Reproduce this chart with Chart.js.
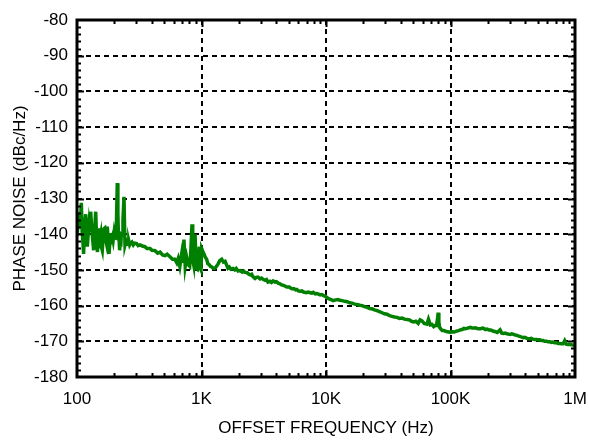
<!DOCTYPE html>
<html>
<head>
<meta charset="utf-8">
<script src="https://cdn.jsdelivr.net/npm/chart.js@4"></script>
<style>
  html, body { margin: 0; padding: 0; background: #fff; }
  canvas { display: block; }
</style>
</head>
<body>
<canvas id="noise" width="589" height="442"></canvas>
<script>
// offset frequency (Hz) and phase noise (dBc/Hz)
const freqs = [
  100, 101.9, 104, 106, 108.3, 110, 111.7, 113, 115, 117.5, 119, 121, 123, 125, 127, 128.8,
  131, 133.7, 136, 138.5, 141.3, 143.9, 146, 148, 150.2, 153, 155, 157, 159.6, 162, 164.5, 166.9,
  169, 171.9, 175.2, 178, 180.7, 183, 186.5, 189, 192.1, 195, 198.3, 201, 204.6, 207, 210.7, 213,
  215, 217.5, 220, 222, 224.4, 227, 231.1, 234, 238.5, 241, 243, 246.2, 249, 253.5, 257, 261,
  265, 270, 276, 283.3, 290, 301.6, 310, 320, 335, 351, 365, 386, 400, 423, 445, 465,
  487, 509, 530, 558, 585, 611, 633, 650, 670, 690, 700, 723, 740, 760, 780, 804,
  820, 839, 850, 865, 888, 905, 925, 945, 960, 975, 990, 1003, 1025, 1046, 1075, 1100,
  1125, 1150, 1180, 1210, 1245, 1285, 1320, 1360, 1400, 1453, 1500, 1547, 1590, 1630, 1672, 1720,
  1790, 1850, 1900, 1970, 2038, 2120, 2180, 2240, 2325, 2400, 2460, 2530, 2590, 2690, 2760, 2840,
  2950, 3030, 3120, 3240, 3330, 3420, 3550, 3650, 3760, 3900, 4000, 4130, 4270, 4400, 4520, 4680,
  4840, 5060, 5200, 5320, 5550, 5700, 5840, 6000, 6200, 6400, 6600, 6940, 7200, 7470, 7700, 7900,
  8200, 8430, 8700, 8970, 9250, 9550, 9800, 10030, 10400, 10950, 11400, 12000, 12500, 12900, 13500, 14150,
  14800, 15500, 16200, 17000, 17800, 18650, 19500, 20400, 21400, 22400, 23400, 24550, 25700, 26900, 28200, 29500,
  30900, 32400, 33900, 35500, 37200, 38900, 40800, 42700, 44700, 46800, 48700, 50600, 52700, 55000, 57000, 59000,
  61500, 64600, 66500, 68800, 71000, 73300, 75500, 77200, 78800, 79600, 80600, 81600, 83700, 85900, 88500, 91400,
  94400, 97400, 100000, 102000, 107000, 112500, 116000, 120000, 124000, 127900, 132000, 137000, 141000, 145000, 149000, 153000,
  158000, 164000, 169000, 174000, 180000, 185000, 191000, 197000, 203000, 210000, 216000, 222000, 230000, 237000, 243000, 250000,
  258000, 267000, 275000, 284000, 292000, 301000, 310000, 318000, 328000, 338000, 349000, 360000, 371000, 383000, 395000, 407000,
  420000, 433000, 445000, 458000, 474000, 490000, 505000, 521000, 537000, 554000, 571000, 589000, 607000, 626000, 644000, 663000,
  686000, 709000, 731000, 754000, 778000, 802000, 827000, 853000, 880000, 907000, 953000, 1000000
];

const noise = [
  -136, -137.4, -134, -138, -131.2, -139, -142.5, -145.5, -138, -134.4, -139, -143.5, -140, -137, -139, -133.7,
  -138, -141.5, -144.5, -139, -133.7, -142, -145, -140, -138.3, -141, -140, -143.5, -144.5, -141, -138.5, -138.3,
  -141, -142.3, -137.9, -142, -145.5, -143, -139.7, -141.5, -140.7, -141.8, -139.7, -141, -141.1, -138, -125.7, -134,
  -140, -141, -144.5, -142.5, -143.5, -140, -140.2, -136, -129.5, -138, -143, -143, -141.5, -141.6, -142.8, -142,
  -143, -142.5, -142.2, -143, -142.5, -142.6, -143.2, -143, -143.3, -143.5, -144, -144, -144.5, -144.6, -145.3, -145,
  -145.8, -146, -145.6, -146.3, -147, -147, -148, -146.8, -149, -146, -148, -141.5, -149, -146.5, -148.5, -149,
  -145, -137.2, -147, -148.5, -140, -149.5, -149.8, -146, -143.5, -149.5, -150, -144, -144.8, -145.5, -146.5, -147,
  -148.3, -148.5, -149, -149.2, -149.6, -149.5, -149, -148.3, -147.4, -147, -147.8, -147.6, -148.6, -149.5, -149.2, -149.8,
  -149.6, -150, -149.6, -150.3, -150.2, -150.6, -150.3, -150.7, -150.8, -151.2, -151.4, -151.2, -151.9, -152.4, -152.1, -152,
  -152.5, -152.3, -152.6, -152.9, -152.7, -153.4, -153.2, -153.5, -153.1, -153.4, -153.3, -153.7, -153.9, -154.2, -154.3, -154.5,
  -154.8, -154.8, -155.1, -155.3, -155.3, -155.6, -155.5, -155.9, -156, -155.9, -156.2, -156.4, -156.2, -156.4, -156.5, -156.3,
  -156.7, -156.6, -156.8, -157, -156.9, -157.2, -157.3, -157.6, -158, -158.3, -158.6, -158.4, -158.3, -158.5, -158.6, -158.8,
  -158.9, -159.2, -159.3, -159.6, -159.7, -159.9, -160, -160.3, -160.5, -160.8, -160.9, -161.2, -161.4, -161.7, -162, -162.3,
  -162.4, -162.8, -163, -163.2, -163.3, -163.6, -163.5, -163.8, -163.9, -164, -164.4, -164.6, -164.4, -165, -164, -164.3,
  -165, -165.2, -163.8, -165.4, -165.3, -165.9, -165.6, -165.6, -163.5, -162, -164.5, -166, -166.6, -167, -167, -167.2,
  -167.3, -167.4, -167.5, -167.3, -167.4, -167.1, -167, -166.8, -166.7, -166.4, -166.5, -166.3, -166.2, -166.1, -166.3, -166.3,
  -166.2, -166.4, -166.5, -166.5, -166.3, -166.4, -166.7, -166.6, -166.8, -166.8, -167, -167.2, -167.3, -167.5, -167.2, -166.8,
  -167.7, -167.8, -167.7, -167.9, -168, -168.1, -167.9, -168, -168.2, -168.3, -168.5, -168.6, -168.8, -169, -168.9, -169.1,
  -169.3, -169.3, -169.2, -169.4, -169.5, -169.5, -169.6, -169.6, -169.8, -169.8, -170, -170, -170.1, -170.1, -170.3, -170.2,
  -170.4, -170.4, -170.6, -170.6, -170.7, -170.7, -169.8, -170.8, -170.9, -170.9, -171, -171.2
];

const xTickValues = [100, 1000, 10000, 100000, 1000000];
const xTickLabels = ['100', '1K', '10K', '100K', '1M'];
const yMin = -180, yMax = -80, yStep = 10;

const FONT = {family: '"Liberation Sans", Arial, Helvetica, sans-serif', size: 17};

Chart.defaults.color = '#000';
Chart.defaults.font.family = FONT.family;

// white background, frame and the small inside ticks
const framePlugin = {
  id: 'frame',
  beforeDraw(chart) {
    const ctx = chart.ctx;
    ctx.save();
    ctx.fillStyle = '#fff';
    ctx.fillRect(0, 0, chart.width, chart.height);
    ctx.restore();
  },
  afterDraw(chart) {
    const {ctx, chartArea: a, scales: {x, y}} = chart;
    ctx.save();
    ctx.strokeStyle = '#000';
    ctx.lineWidth = 2;
    ctx.beginPath();
    for (let d = 100; d < 1000000; d *= 10) {
      for (let m = 1; m <= 9; m++) {
        if (m === 1 && d === 100) continue;
        const px = Math.round(x.getPixelForValue(m * d)) + 0.5;
        const len = m === 1 ? 7 : 4;
        ctx.moveTo(px, a.bottom); ctx.lineTo(px, a.bottom - len);
        ctx.moveTo(px, a.top); ctx.lineTo(px, a.top + len);
      }
    }
    for (let v = yMin + 2; v < yMax; v += 2) {
      const py = Math.round(y.getPixelForValue(v)) + 0.5;
      const len = v % 10 === 0 ? 7 : 4;
      ctx.moveTo(a.left, py); ctx.lineTo(a.left + len, py);
      ctx.moveTo(a.right, py); ctx.lineTo(a.right - len, py);
    }
    ctx.stroke();
    ctx.lineWidth = 3;
    ctx.strokeRect(a.left, a.top, a.right - a.left, a.bottom - a.top);
    ctx.restore();
  }
};

new Chart(document.getElementById('noise'), {
  type: 'line',
  data: {
    datasets: [{
      data: freqs.map((f, i) => ({x: f, y: noise[i]})),
      borderColor: '#008000',
      borderWidth: 3.5,
      pointRadius: 0,
      tension: 0,
      fill: false
    }]
  },
  options: {
    responsive: false,
    devicePixelRatio: 1,
    animation: false,
    layout: {padding: {top: 20, right: 14, left: 0, bottom: 0}},
    plugins: {legend: {display: false}, tooltip: {enabled: false}},
    scales: {
      x: {
        type: 'logarithmic',
        position: 'bottom',
        min: 100,
        max: 1000000,
        afterBuildTicks: s => { s.ticks = xTickValues.map(v => ({value: v})); },
        afterFit: s => { s.height = 65; s.paddingLeft = 0; s.paddingRight = 0; },
        ticks: {
          callback: v => xTickLabels[xTickValues.indexOf(v)] ?? '',
          font: FONT,
          color: '#000',
          padding: 12,
          maxRotation: 0,
          autoSkip: false
        },
        grid: {color: '#000', lineWidth: 2, drawTicks: false},
        border: {display: false, dash: [5, 4]},
        title: {display: true, text: 'OFFSET FREQUENCY (Hz)', font: FONT, color: '#000', padding: {top: 4, bottom: 3}}
      },
      y: {
        type: 'linear',
        min: yMin,
        max: yMax,
        afterFit: s => { s.width = 77; s.paddingTop = 0; s.paddingBottom = 0; },
        ticks: {stepSize: yStep, font: FONT, color: '#000', padding: 9},
        grid: {color: '#000', lineWidth: 2, drawTicks: false},
        border: {display: false, dash: [5, 4]},
        title: {display: true, text: 'PHASE NOISE (dBc/Hz)', font: FONT, color: '#000', padding: {top: 10, bottom: 0}}
      }
    }
  },
  plugins: [framePlugin]
});
</script>
</body>
</html>
